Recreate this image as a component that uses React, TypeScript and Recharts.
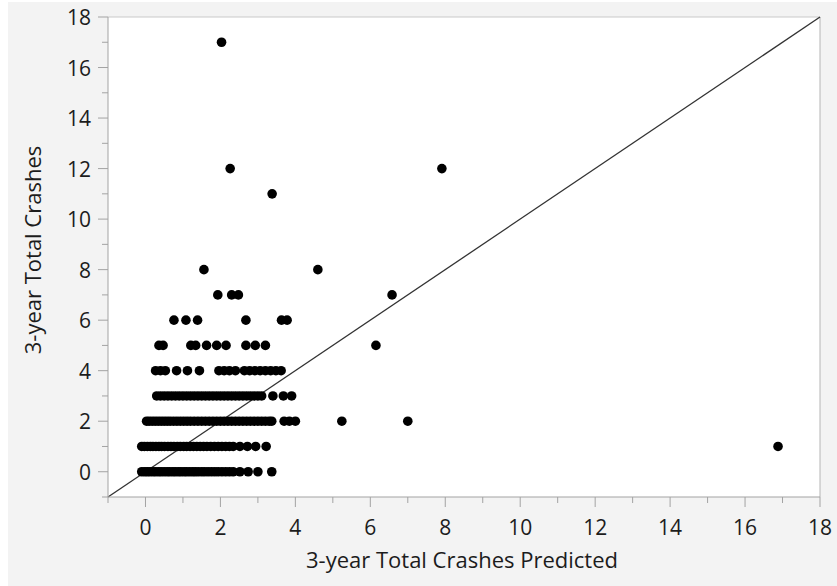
import {
  CartesianGrid,
  ReferenceLine,
  Scatter,
  ScatterChart,
  XAxis,
  YAxis,
} from "recharts";

// predicted totals, grouped by observed 3-year crash count
const predAt0 = [
  -0.1, -0.02, 0.05, 0.12, 0.2, 0.27, 0.35, 0.42, 0.5, 0.58, 0.65, 0.73, 0.8, 0.88, 0.95,
  1.03, 1.1, 1.18, 1.26, 1.33, 1.41, 1.5, 1.58, 1.67, 1.76, 1.85, 1.94, 2.04, 2.14, 2.24,
  2.34, 2.52, 2.74, 3.0, 3.37,
];
const predAt1 = [
  -0.1, -0.03, 0.05, 0.13, 0.2, 0.28, 0.36, 0.43, 0.51, 0.6, 0.68, 0.76, 0.85, 0.93, 1.02,
  1.1, 1.19, 1.28, 1.37, 1.46, 1.55, 1.64, 1.74, 1.84, 1.94, 2.04, 2.14, 2.24, 2.34, 2.52,
  2.72, 2.94, 3.22, 16.88,
];
const predAt2 = [
  0.03, 0.1, 0.18, 0.26, 0.34, 0.42, 0.5, 0.58, 0.66, 0.75, 0.84, 0.93, 1.02, 1.11, 1.2,
  1.3, 1.4, 1.5, 1.6, 1.7, 1.8, 1.9, 2.0, 2.1, 2.2, 2.3, 2.4, 2.5, 2.6, 2.7, 2.8, 2.9, 3.0,
  3.1, 3.2, 3.3, 3.37, 3.7, 3.84, 4.0, 5.24, 7.0,
];
const predAt3 = [
  0.3, 0.4, 0.5, 0.6, 0.7, 0.8, 0.9, 1.0, 1.1, 1.2, 1.3, 1.4, 1.5, 1.6, 1.7, 1.8, 1.9, 2.0,
  2.1, 2.2, 2.3, 2.4, 2.5, 2.6, 2.7, 2.8, 2.9, 3.0, 3.1, 3.4, 3.68, 3.9,
];
const predAt4 = [
  0.27, 0.4, 0.53, 0.83, 1.12, 1.44, 1.96, 2.1, 2.24, 2.4, 2.64, 2.78, 2.92, 3.06, 3.2,
  3.34, 3.48, 3.62,
];
const predAt5 = [0.36, 0.47, 1.21, 1.34, 1.63, 1.9, 2.15, 2.68, 2.93, 3.2, 6.15];
const predAt6 = [0.76, 1.08, 1.39, 2.68, 3.63, 3.78];
const predAt7 = [1.93, 2.3, 2.48, 6.58];
const predAt8 = [1.56, 4.6];
const predAt11 = [3.38];
const predAt12 = [2.26, 7.91];
const predAt17 = [2.03];

const rows: [number, number[]][] = [
  [0, predAt0],
  [1, predAt1],
  [2, predAt2],
  [3, predAt3],
  [4, predAt4],
  [5, predAt5],
  [6, predAt6],
  [7, predAt7],
  [8, predAt8],
  [11, predAt11],
  [12, predAt12],
  [17, predAt17],
];

const axisTicks = [-1, 0, 1, 2, 3, 4, 5, 6, 7, 8, 9, 10, 11, 12, 13, 14, 15, 16, 17, 18];

const points = rows.flatMap(([actual, preds]) => preds.map((pred) => ({ pred, actual })));

const W = 829;
const H = 584;
const PLOT_LEFT = 100;
const PLOT_BOTTOM = 495;
const FONT = "'Open Sans', sans-serif";
const TEXT = "#1c1c1c";
const AXIS = "#a3a3a3";

const isMajor = (v: number) => v >= 0 && v % 2 === 0;

function XTick({ x, payload }: any) {
  const v = payload.value;
  const len = isMajor(v) ? 10 : 6;
  return (
    <g>
      <line x1={x} x2={x} y1={PLOT_BOTTOM} y2={PLOT_BOTTOM + len} stroke={AXIS} />
      {isMajor(v) ? (
        <text x={x} y={PLOT_BOTTOM + 30} textAnchor="middle" dominantBaseline="central"
          fontSize={21} fontFamily={FONT} fill={TEXT}>
          {v}
        </text>
      ) : null}
    </g>
  );
}

function YTick({ y, payload }: any) {
  const v = payload.value;
  const len = isMajor(v) ? 10 : 6;
  return (
    <g>
      <line x1={PLOT_LEFT - len} x2={PLOT_LEFT} y1={y} y2={y} stroke={AXIS} />
      {isMajor(v) ? (
        <text x={PLOT_LEFT - 17} y={y} textAnchor="end" dominantBaseline="central"
          fontSize={21} fontFamily={FONT} fill={TEXT}>
          {v}
        </text>
      ) : null}
    </g>
  );
}

const Dot = ({ cx, cy }: any) => <circle cx={cx} cy={cy} r={4.8} fill="#000" />;

export default function App() {
  return (
    <div style={{ position: "absolute", left: 8, top: 2, width: W, height: H, background: "#f3f3f3" }}>
      <ScatterChart width={W} height={H} margin={{ top: 15, right: 17, left: 0, bottom: 0 }}>
        <CartesianGrid horizontal={false} vertical={false} fill="#fff" />
        <XAxis
          type="number"
          dataKey="pred"
          domain={[-1, 18]}
          ticks={axisTicks}
          interval={0}
          height={89}
          axisLine={{ stroke: AXIS }}
          tickLine={false}
          tick={<XTick />}
          allowDataOverflow
        />
        <YAxis
          type="number"
          dataKey="actual"
          domain={[-1, 18]}
          ticks={axisTicks}
          interval={0}
          width={100}
          axisLine={{ stroke: AXIS }}
          tickLine={false}
          tick={<YTick />}
          allowDataOverflow
        />
        <ReferenceLine y={18} stroke="#c9c9c9" />
        <ReferenceLine x={18} stroke="#b5b5b5" />
        <Scatter data={points} shape={<Dot />} isAnimationActive={false} />
        <ReferenceLine
          segment={[{ x: -1, y: -1 }, { x: 18, y: 18 }]}
          stroke="#333"
          strokeWidth={1.3}
        />
      </ScatterChart>
      <div style={{ position: "absolute", left: 254, top: 542, width: 400, textAlign: "center",
        fontFamily: FONT, fontSize: 22, color: TEXT }}>
        3-year Total Crashes Predicted
      </div>
      <div style={{ position: "absolute", left: -176, top: 233, width: 400, textAlign: "center",
        fontFamily: FONT, fontSize: 22, color: TEXT, transform: "rotate(-90deg)" }}>
        3-year Total Crashes
      </div>
    </div>
  );
}
